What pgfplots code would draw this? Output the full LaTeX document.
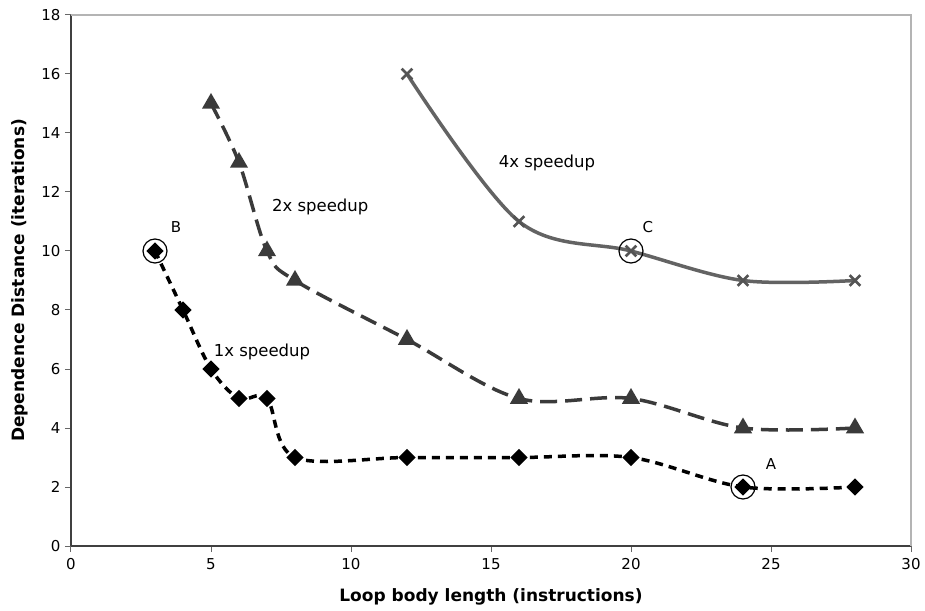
\documentclass[border=0pt]{standalone}
\usepackage{fontspec}
\setmainfont{DejaVu Sans}
\usepackage{pgfplots}
\pgfplotsset{compat=1.18}
\definecolor{cOne}{HTML}{000000}
\definecolor{cTwo}{HTML}{3A3A3A}
\definecolor{cFour}{HTML}{636363}
\definecolor{cFrame}{HTML}{B4B4B4}

\begin{document}
\begin{tikzpicture}[font=\fontsize{16.5}{18}\selectfont]
\begin{axis}[
    name=ax,
    scale only axis,
    width=840pt, height=531pt,
    xmin=0, xmax=30, ymin=0, ymax=18,
    xtick={0,5,...,30}, ytick={0,2,...,18},
    axis x line*=bottom, axis y line*=left,
    axis line style={-, black!75, line width=1.2pt},
    tick style={black!60, line width=1pt},
    tick align=outside,
    major tick length=6pt,
    /pgf/number format/assume math mode=true,
    tick label style={font=\fontsize{15}{17}\selectfont},
    xticklabel style={yshift=-3pt},
    yticklabel style={xshift=-1pt},
    xlabel={\bfseries Loop body length (instructions)},
    ylabel={\bfseries Dependence Distance (iterations)},
    label style={font=\fontsize{17}{19}\selectfont},
    xlabel style={yshift=-12pt},
    ylabel style={yshift=6pt},
    clip=false,
]
\draw[cFrame, line width=1.5pt] (rel axis cs:0,1) -- (rel axis cs:1,1) -- (rel axis cs:1,0);

% 4x speedup
\addplot[cFour, line width=3.5pt, smooth, tension=0.55, mark=x, mark size=7.5pt,
  mark options={solid, line width=2.8pt, draw=cFour!85!black}] coordinates {
  (12,16) (16,11) (20,10) (24,9) (28,9)
};

% 2x speedup
\addplot[cTwo, line width=3.5pt, smooth, tension=0.55, dash pattern=on 17pt off 8pt,
  mark=triangle*, mark size=7pt, mark options={solid}] coordinates {
  (5,15) (6,13) (7,10) (8,9) (12,7) (16,5) (20,5) (24,4) (28,4)
};

% 1x speedup
\addplot[cOne, line width=3.5pt, smooth, tension=0.55, dash pattern=on 8pt off 6pt,
  mark=square*, mark size=4.3pt, mark options={solid, rotate=45}] coordinates {
  (3,10) (4,8) (5,6) (6,5) (7,5) (8,3) (12,3) (16,3) (20,3) (24,2) (28,2)
};

% highlighted points
\addplot[black, only marks, mark=o, mark size=12pt, mark options={line width=1.2pt}]
  coordinates {(3,10) (20,10) (24,2)};

\node[font=\fontsize{15}{17}\selectfont] at (axis cs:3.75,10.8) {B};
\node[font=\fontsize{15}{17}\selectfont] at (axis cs:20.6,10.8) {C};
\node[font=\fontsize{15}{17}\selectfont] at (axis cs:25.0,2.78) {A};
\node at (axis cs:6.82,6.58) {1x speedup};
\node at (axis cs:8.9,11.5) {2x speedup};
\node at (axis cs:17.0,12.98) {4x speedup};
\end{axis}
\pgfresetboundingbox
\path[use as bounding box] ([shift={(-71pt,-64pt)}]ax.south west) rectangle ([shift={(14pt,15pt)}]ax.north east);
\end{tikzpicture}
\end{document}
